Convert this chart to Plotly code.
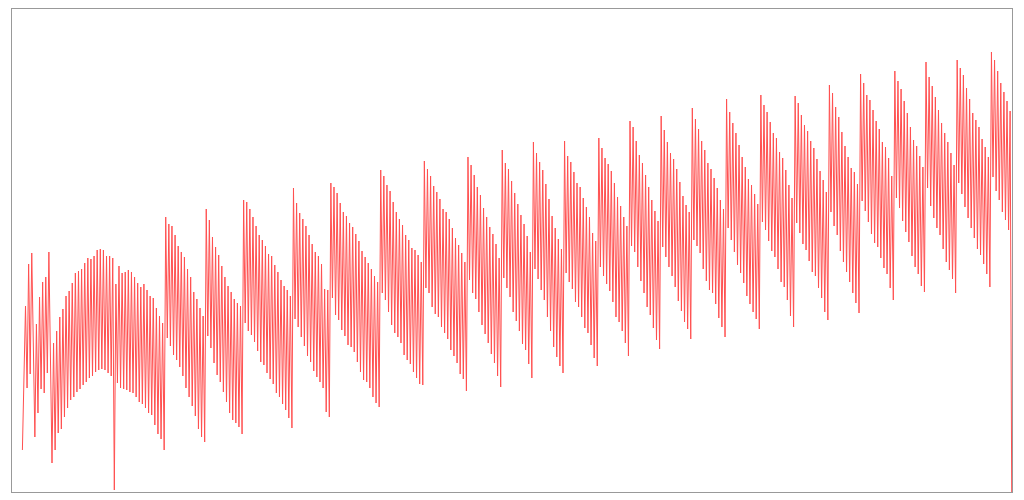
import plotly.graph_objects as go

# first irregular stretch, read point by point
lead = [42, 108, 186, 104, 228, 118, 239, 149, 55, 168, 79, 195, 103, 210, 99,
        215, 119, 240, 112, 29]

# after the lead the series alternates peak, trough, peak, trough ...
peaks = [
    # dome
    149, 161, 175, 183, 196, 201, 209, 219, 221, 223, 229, 234, 233, 236, 242,
    243, 242, 236, 236, 234,
    208, 226, 219, 220, 222, 220, 215, 209, 205, 208, 202, 196, 194, 184, 176, 169,
    275, 268, 266, 257, 246, 240, 235, 223, 215, 200, 193, 184, 176,
    283, 272, 255, 245, 237, 226, 215, 206, 200, 193, 189, 186,
    292, 290, 283, 275, 266, 257, 252, 246, 238, 236, 227, 220, 212, 206, 202, 196,
    304, 289, 279, 273, 266, 257, 248, 240, 236, 228, 203, 202,
    309, 305, 299, 289, 280, 276, 269, 265, 258, 251, 241, 235, 229, 223, 216, 210,
    322, 316, 307, 301, 290, 280, 273, 267, 257, 252, 244, 242, 237, 230,
    331, 323, 316, 306, 300, 293, 283, 280, 273, 264, 254, 247, 239, 230,
    335, 327, 317, 305, 297, 284, 275, 265, 258, 248, 234,
    342, 329, 323, 311, 299, 288, 277, 268, 256, 240,
    350, 339, 330, 322, 308, 293, 276, 264, 253, 243,
    351, 336, 330, 320, 309, 305, 294, 285, 275, 259, 251,
    354, 344, 334, 328, 321, 309, 295, 286, 275, 266,
    371, 365, 351, 337, 329, 317, 305, 292, 281, 271,
    376, 362, 350, 339, 333, 323, 310, 296, 287, 280,
    384, 373, 363, 351, 342, 329, 323, 314, 304, 292, 283,
    393, 380, 369, 359, 347, 335, 325, 313, 307, 298, 288,
    397, 387, 380, 370, 359, 354, 340, 334, 322, 307, 294,
    396, 389, 377, 367, 361, 351, 344, 333, 321, 312, 300,
    407, 399, 385, 375, 360, 346, 335, 324, 320, 308,
    418, 409, 397, 392, 382, 371, 363, 350, 345, 334, 316,
    421, 411, 403, 391, 379, 365, 352, 346, 336, 325,
    430, 415, 406, 395, 382, 369, 359, 350, 339, 327,
    432, 424, 417, 404, 393, 379, 372, 365, 353, 345, 335,
    440, 432, 421, 409, 400, 391, 381,
]

troughs = [
    42, 59, 63, 75, 84, 92, 95, 100, 103, 107, 110, 114, 116, 120, 122, 123,
    122, 119, 116, 2,
    109, 104, 103, 102, 100, 99, 95, 90, 88, 84, 79, 77, 67, 58, 53, 42,
    154, 146, 137, 132, 125, 116, 104, 95, 86, 76, 63, 55, 50,
    156, 144, 129, 117, 110, 100, 90, 79, 72, 69, 65, 58,
    169, 161, 157, 150, 141, 130, 127, 119, 113, 108, 99, 95, 88, 82, 74, 64,
    173, 165, 155, 146, 136, 130, 121, 115, 110, 104, 80, 75,
    194, 177, 172, 162, 156, 147, 145, 140, 130, 120, 112, 110, 104, 95, 89, 85,
    199, 192, 180, 167, 159, 155, 149, 137, 132, 128, 120, 114, 108, 107,
    204, 199, 185, 178, 175, 165, 159, 153, 142, 136, 129, 118, 113, 101,
    212, 199, 193, 180, 167, 158, 149, 138, 129, 116, 105,
    214, 204, 195, 180, 171, 161, 148, 142, 128, 114,
    223, 213, 202, 192, 175, 161, 145, 135, 126, 119,
    219, 210, 203, 190, 185, 175, 164, 159, 147, 134, 126,
    225, 216, 208, 201, 190, 175, 170, 161, 149, 136,
    246, 240, 225, 211, 199, 185, 177, 164, 152, 143,
    245, 235, 225, 216, 205, 191, 181, 170, 163, 153,
    252, 246, 239, 223, 211, 202, 199, 188, 174, 165, 155,
    264, 252, 240, 227, 219, 209, 196, 188, 180, 173, 163,
    270, 262, 251, 241, 235, 223, 210, 205, 192, 176, 165,
    269, 259, 248, 242, 231, 220, 216, 204, 194, 180, 172,
    280, 266, 257, 241, 230, 220, 210, 199, 189, 179,
    291, 281, 270, 258, 249, 245, 234, 224, 218, 204, 192,
    294, 284, 271, 260, 250, 236, 225, 218, 206, 200,
    304, 286, 274, 264, 257, 243, 230, 222, 213, 199,
    309, 298, 285, 274, 264, 254, 243, 237, 228, 218, 205,
    315, 301, 292, 280, 272, 262, 0,
]

values = list(lead)
for p, t in zip(peaks, troughs):
    values.append(p)
    values.append(t)

x = list(range(len(values)))
n = len(values)

fig = go.Figure(go.Scatter(x=x, y=values, mode='lines',
                           line=dict(color='#ff5050', width=1)))

# the page body adds 8px around the figure, so the size is trimmed to fit
fig.update_layout(
    width=1016, height=492,
    margin=dict(l=4, r=12, t=0, b=8),
    paper_bgcolor='white', plot_bgcolor='white',
    showlegend=False,
    # top frame edge sits on the figure edge, draw it just inside
    shapes=[dict(type='line', xref='paper', yref='paper',
                 x0=0, x1=1, y0=1 - 0.5 / 484, y1=1 - 0.5 / 484,
                 line=dict(color='#999999', width=1))],
)
fig.update_xaxes(range=[-0.0104 * (n - 1) / 0.9894, (n - 1) + 0.0003 * (n - 1) / 0.9894],
                 showgrid=False, zeroline=False, showticklabels=False, ticks='',
                 showline=True, mirror=True, linecolor='#999999', linewidth=1)
fig.update_yaxes(range=[0, 484],
                 showgrid=False, zeroline=False, showticklabels=False, ticks='',
                 showline=True, mirror=True, linecolor='#999999', linewidth=1)

fig.write_html("out.html")
